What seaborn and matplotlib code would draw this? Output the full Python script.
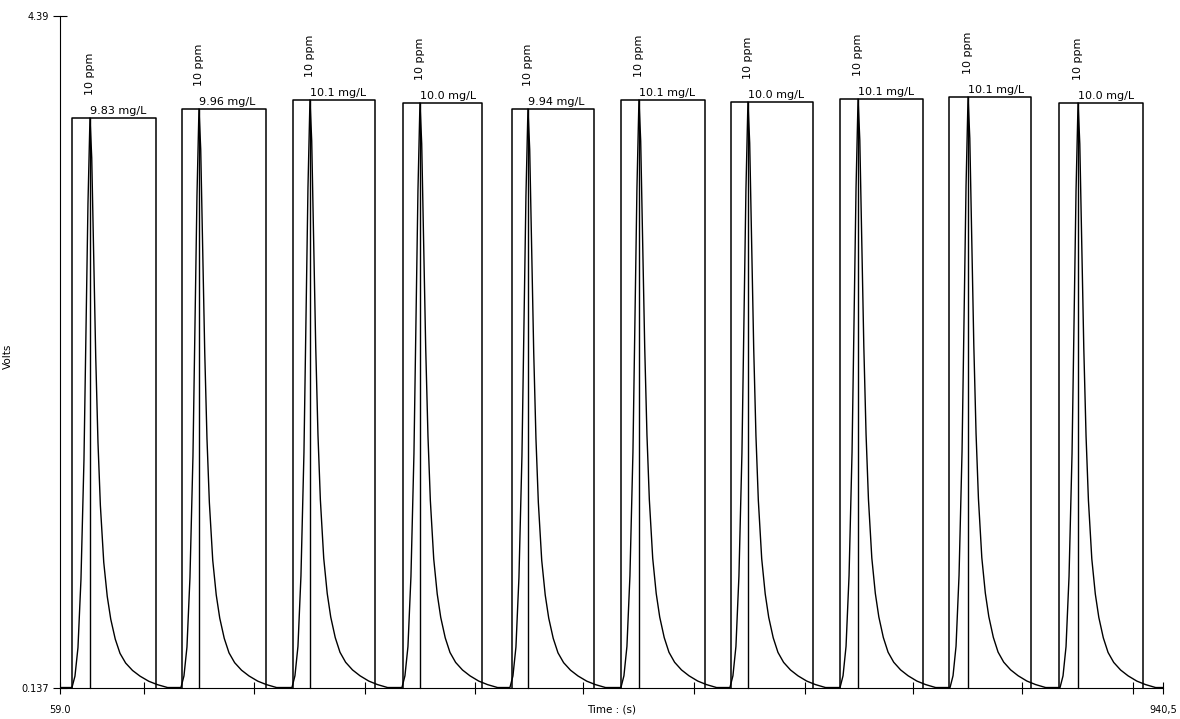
import matplotlib
matplotlib.use("Agg")
import matplotlib.pyplot as plt
import pandas as pd
import seaborn as sns

# Run window (s) and detector range (V)
t_start, t_end = 59.0, 940.5
v_min, v_max = 0.137, 4.39
baseline = 0.14

# Ten injections of the 10 ppm standard
peak_times = [83.0, 170.1, 258.8, 346.7, 433.0, 521.7, 608.8, 696.8, 784.7, 872.6]
peak_heights = [3.745, 3.802, 3.859, 3.840, 3.802, 3.859, 3.846, 3.865, 3.877, 3.840]
window_start = [68.6, 156.5, 245.2, 333.1, 420.2, 507.4, 595.3, 682.4, 769.5, 857.4]
window_end = [135.7, 223.6, 310.7, 396.3, 485.8, 574.5, 660.8, 748.7, 835.0, 924.5]
standard_labels = ["10 ppm"] * 10
result_labels = ["9.83 mg/L", "9.96 mg/L", "10.1 mg/L", "10.0 mg/L", "9.94 mg/L",
                 "10.1 mg/L", "10.0 mg/L", "10.1 mg/L", "10.1 mg/L", "10.0 mg/L"]

# Detector response around each apex: seconds from apex, fraction of peak height
profile_dt = [-14.4, -12.0, -9.6, -7.2, -4.8, -3.2, -1.6, 0.0, 1.4, 2.8, 4.6, 6.4,
              8.3, 11.0, 13.8, 16.6, 20.2, 24.0, 28.5, 34.0, 40.0, 47.0, 54.0, 62.0]
profile_frac = [0.0, 0.02, 0.07, 0.19, 0.40, 0.62, 0.85, 1.0, 0.93, 0.78, 0.58, 0.43,
                0.32, 0.22, 0.16, 0.12, 0.085, 0.06, 0.043, 0.03, 0.02, 0.011, 0.005, 0.0]

# Unlabelled time ticks
minor_ticks = [126.1, 214.0, 302.8, 390.7, 477.0, 565.7, 654.4, 740.7, 827.8, 916.6]

sns.set_style("ticks")
plt.rcParams["font.family"] = ["DejaVu Sans"]
plt.rcParams["text.color"] = "black"
plt.rcParams["axes.labelcolor"] = "black"
plt.rcParams["xtick.color"] = "black"
plt.rcParams["ytick.color"] = "black"

# Assemble the detector trace
times, volts = [t_start], [baseline]
for pt, h in zip(peak_times, peak_heights):
    for dt, f in zip(profile_dt, profile_frac):
        times.append(pt + dt)
        volts.append(baseline + f * (h - baseline))
times.append(t_end)
volts.append(baseline)
trace = pd.DataFrame({"time": times, "volts": volts})

fig = plt.figure(figsize=(11.8, 7.19), dpi=100)
ax = fig.add_axes([0.0508, 0.0431, 0.9348, 0.9346])

sns.lineplot(data=trace, x="time", y="volts", estimator=None, sort=False,
             color="black", linewidth=1.0, ax=ax)

# Integration windows, apex markers and results
for pt, h, ws, we, std, res in zip(peak_times, peak_heights, window_start,
                                   window_end, standard_labels, result_labels):
    ax.plot([ws, ws, we, we], [v_min, h, h, v_min], color="black",
            linewidth=1.1, clip_on=False)
    ax.plot([pt, pt], [v_min, h], color="black", linewidth=1.0, clip_on=False)
    ax.text(pt, h + 0.012, res, ha="left", va="bottom", fontsize=8)
    ax.text(pt, h + 0.145, std, rotation=90, ha="center", va="bottom", fontsize=8)

ax.set_xlim(t_start, t_end)
ax.set_ylim(v_min, v_max)
ax.set_xticks([t_start, t_end])
ax.set_xticklabels(["59.0", "940,5"])
ax.set_xticks(minor_ticks, minor=True)
ax.set_yticks([v_min, v_max])
ax.set_yticklabels(["0.137", "4.39"])

ax.tick_params(axis="x", which="both", direction="inout", length=9, width=0.8,
               labelsize=7, pad=8)
ax.tick_params(axis="y", which="both", direction="inout", length=10, width=0.8,
               labelsize=7, pad=3)

ax.set_xlabel("Time : (s)", fontsize=7.5)
ax.xaxis.set_label_coords(0.5, -0.0238)
ax.set_ylabel("Volts", fontsize=7.5)
ax.yaxis.set_label_coords(-0.0426, 0.494)

sns.despine(ax=ax)
for side in ("left", "bottom"):
    ax.spines[side].set_linewidth(0.8)
    ax.spines[side].set_color("black")

fig.savefig("out.png", dpi=100)
